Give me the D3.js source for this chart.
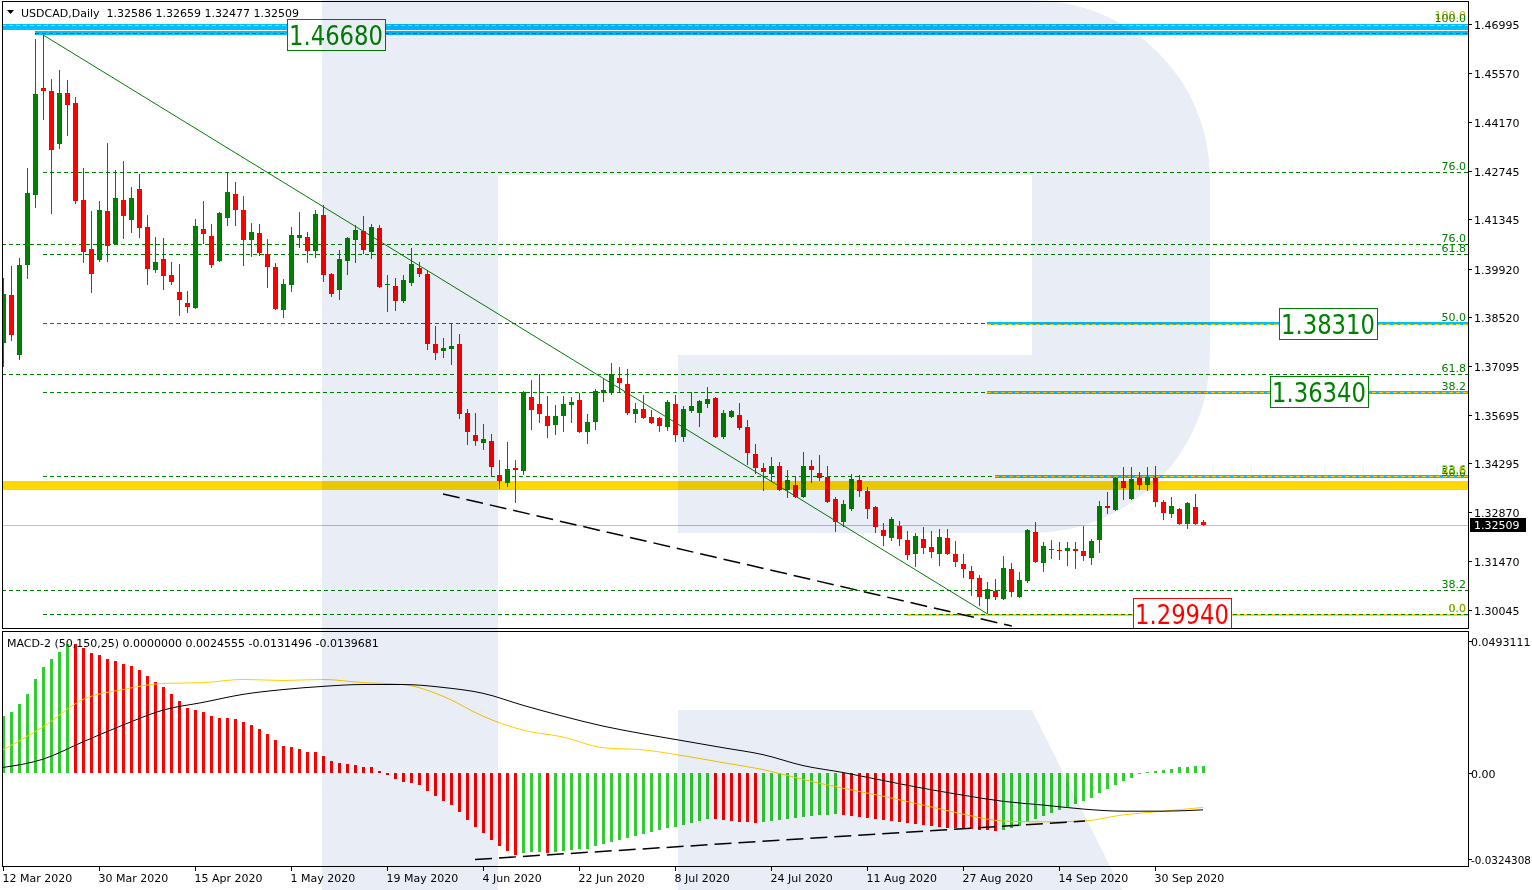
<!DOCTYPE html>
<html><head><meta charset="utf-8">
<script src="https://cdn.jsdelivr.net/npm/d3@7"></script>
<style>body{margin:0;background:#fff}svg{display:block}text{font-family:"DejaVu Sans",sans-serif}</style>
</head><body><svg id="c" width="1532" height="890"></svg>
<script>
// ---------- data ----------
const dateTickIdx=[0,12,24,36,48,60,72,84,96,108,120,132,144];
const dateTickLabels=["12 Mar 2020","30 Mar 2020","15 Apr 2020","1 May 2020","19 May 2020","4 Jun 2020","22 Jun 2020","8 Jul 2020","24 Jul 2020","11 Aug 2020","27 Aug 2020","14 Sep 2020","30 Sep 2020"];
const priceTicks=[1.46995,1.45570,1.44170,1.42745,1.41345,1.39920,1.38520,1.37095,1.35695,1.34295,1.32870,1.31470,1.30045];
const macdTicks=[0.0493111,0,-0.0324308];
const macdTickLabels=["0.0493111","0.00","-0.0324308"];
const open=[
1.3777,1.3916,1.3742,1.4002,1.4205,1.4514,1.4506,1.4352,1.4500,1.4471,
1.4190,1.4049,1.4017,1.4159,1.4063,1.4190,1.4133,1.4222,1.4112,1.3988,
1.4020,1.3973,1.3924,1.3892,1.3878,1.4107,1.4086,1.4014,1.4138,1.4208,
1.4162,1.4075,1.4095,1.4034,1.3997,1.3872,1.3945,1.4081,1.4083,1.4043,
1.4147,1.3976,1.3930,1.4014,1.4075,1.4101,1.4040,1.4109,1.3945,1.3942,
1.3898,1.3950,1.3994,1.3976,1.3774,1.3754,1.3759,1.3774,1.3574,1.3511,
1.3487,1.3493,1.3395,1.3372,1.3415,1.3406,1.3621,1.3600,1.3566,1.3540,
1.3566,1.3597,1.3612,1.3519,1.3548,1.3632,1.3632,1.3675,1.3658,1.3571,
1.3586,1.3563,1.3560,1.3534,1.3600,1.3505,1.3580,1.3574,1.3600,1.3618,
1.3505,1.3563,1.3568,1.3534,1.3456,1.3415,1.3398,1.3421,1.3351,1.3366,
1.3331,1.3421,1.3401,1.3389,1.3325,1.3259,1.3297,1.3380,1.3349,1.3302,
1.3236,1.3213,1.3247,1.3207,1.3166,1.3210,1.3187,1.3166,1.3213,1.3166,
1.3137,1.3117,1.3097,1.3036,1.3059,1.3036,1.3123,1.3042,1.3088,1.3230,
1.3140,1.3181,1.3178,1.3175,1.3181,1.3175,1.3155,1.3207,1.3305,1.3294,
1.3378,1.3325,1.3386,1.3366,1.3386,1.3317,1.3282,1.3297,1.3253,1.3302,
1.32586];
const high=[
1.3965,1.3999,1.4023,1.4283,1.4656,1.4668,1.4540,1.4566,1.4538,1.4488,
1.4283,1.4159,1.4188,1.4355,1.4277,1.4303,1.4228,1.4266,1.4147,1.4083,
1.4081,1.4011,1.4005,1.3927,1.4135,1.4188,1.4121,1.4156,1.4268,1.4242,
1.4202,1.4124,1.4121,1.4078,1.4008,1.3962,1.4112,1.4156,1.4098,1.4162,
1.4176,1.3978,1.4046,1.4083,1.4118,1.4144,1.4121,1.4118,1.3973,1.3965,
1.3973,1.4052,1.4011,1.3988,1.3826,1.3791,1.3835,1.3803,1.3586,1.3574,
1.3542,1.3513,1.3438,1.3490,1.3438,1.3637,1.3670,1.3687,1.3623,1.3597,
1.3623,1.3621,1.3632,1.3571,1.3644,1.3675,1.3719,1.3707,1.3702,1.3603,
1.3626,1.3583,1.3563,1.3612,1.3626,1.3594,1.3635,1.3612,1.3649,1.3621,
1.3583,1.3583,1.3603,1.3554,1.3485,1.3430,1.3447,1.3432,1.3409,1.3389,
1.3461,1.3438,1.3453,1.3421,1.3331,1.3323,1.3398,1.3395,1.3360,1.3304,
1.3256,1.3273,1.3262,1.3233,1.3227,1.3245,1.3233,1.3239,1.3239,1.3204,
1.3166,1.3132,1.3106,1.3085,1.3094,1.3161,1.3140,1.3114,1.3239,1.3259,
1.3201,1.3207,1.3201,1.3201,1.3201,1.3247,1.3210,1.3320,1.3346,1.3388,
1.3418,1.3418,1.3404,1.3418,1.3421,1.3323,1.3331,1.3299,1.3317,1.3340,
1.32659];
const low=[
1.3707,1.3783,1.3728,1.3962,1.4167,1.4422,1.4150,1.4338,1.4376,1.4179,
1.4008,1.3921,1.4011,1.4011,1.4061,1.4078,1.4095,1.4081,1.3945,1.3979,
1.3930,1.3945,1.3855,1.3864,1.3875,1.4063,1.3994,1.4012,1.4115,1.4115,
1.3999,1.4026,1.4028,1.3936,1.3873,1.3849,1.3924,1.4052,1.4008,1.4023,
1.3953,1.3910,1.3901,1.3973,1.4008,1.4034,1.4020,1.3937,1.3866,1.3869,
1.3892,1.3942,1.3968,1.3756,1.3728,1.3733,1.3713,1.3557,1.3482,1.3479,
1.3467,1.3389,1.3354,1.3360,1.3314,1.3395,1.3525,1.3545,1.3502,1.3511,
1.3519,1.3545,1.3516,1.3485,1.3525,1.3606,1.3626,1.3632,1.3568,1.3545,
1.3558,1.3542,1.3519,1.3522,1.3490,1.3490,1.3574,1.3534,1.3589,1.3502,
1.3499,1.3560,1.3525,1.3424,1.3398,1.3349,1.3378,1.3349,1.3328,1.3329,
1.3329,1.3372,1.3378,1.3315,1.3230,1.3245,1.3291,1.3331,1.3268,1.3227,
1.3190,1.3204,1.3190,1.3149,1.3129,1.3166,1.3155,1.3132,1.3164,1.3129,
1.3097,1.3045,1.3016,1.2994,1.3033,1.3033,1.3042,1.3040,1.3082,1.3141,
1.3114,1.3152,1.3149,1.3132,1.3123,1.3146,1.3135,1.3169,1.3282,1.3291,
1.3323,1.3323,1.3351,1.3349,1.3302,1.3265,1.3271,1.3251,1.3239,1.3251,
1.32477];
const close=[
1.3919,1.3800,1.4002,1.4211,1.4497,1.4506,1.4335,1.4500,1.4465,1.4188,
1.4040,1.3976,1.4162,1.4057,1.4196,1.4144,1.4196,1.4109,1.3991,1.4011,
1.3971,1.3953,1.3901,1.3881,1.4115,1.4092,1.4002,1.4153,1.4213,1.4162,
1.4075,1.4098,1.4037,1.3997,1.3875,1.3947,1.4089,1.4089,1.4043,1.4150,
1.3973,1.3919,1.4020,1.4081,1.4104,1.4046,1.4112,1.3939,1.3947,1.3898,
1.3959,1.4005,1.3976,1.3774,1.3748,1.3762,1.3768,1.3571,1.3519,1.3493,
1.3499,1.3418,1.3378,1.3412,1.3409,1.3635,1.3583,1.3571,1.3537,1.3566,
1.3600,1.3606,1.3519,1.3548,1.3638,1.3641,1.3687,1.3661,1.3574,1.3586,
1.3560,1.3545,1.3537,1.3606,1.3511,1.3586,1.3594,1.3609,1.3615,1.3505,
1.3574,1.3580,1.3531,1.3459,1.3415,1.3404,1.3421,1.3351,1.3380,1.3331,
1.3421,1.3409,1.3386,1.3317,1.3259,1.3311,1.3383,1.3349,1.3297,1.3245,
1.3219,1.3268,1.3210,1.3164,1.3219,1.3184,1.3172,1.3216,1.3166,1.3143,
1.3123,1.3094,1.3042,1.3065,1.3042,1.3126,1.3056,1.3091,1.3236,1.3143,
1.3190,1.3178,1.3175,1.3184,1.3175,1.3161,1.3204,1.3305,1.3299,1.3386,
1.3357,1.3383,1.3366,1.3389,1.3317,1.3285,1.3305,1.3253,1.3314,1.3253,
1.32509];
const macdHist=[
0.0211,0.0226,0.0256,0.0293,0.0349,0.0397,0.0426,0.0452,0.0482,0.0480,
0.0467,0.0449,0.0441,0.0426,0.0419,0.0408,0.0400,0.0386,0.0363,0.0341,
0.0319,0.0293,0.0267,0.0241,0.0234,0.0226,0.0211,0.0204,0.0203,0.0200,
0.0189,0.0178,0.0163,0.0145,0.0122,0.0100,0.0096,0.0089,0.0078,0.0077,
0.0063,0.0044,0.0037,0.0033,0.0030,0.0022,0.0021,0.0007,-0.0011,-0.0026,
-0.0037,-0.0041,-0.0048,-0.0070,-0.0089,-0.0108,-0.0122,-0.0148,-0.0178,-0.0204,
-0.0226,-0.0252,-0.0274,-0.0293,-0.0308,-0.0300,-0.0299,-0.0298,-0.0300,-0.0297,
-0.0293,-0.0289,-0.0286,-0.0285,-0.0274,-0.0267,-0.0260,-0.0252,-0.0245,-0.0237,
-0.0230,-0.0222,-0.0215,-0.0208,-0.0204,-0.0197,-0.0189,-0.0182,-0.0174,-0.0176,
-0.0178,-0.0182,-0.0184,-0.0185,-0.0189,-0.0185,-0.0182,-0.0178,-0.0174,-0.0171,
-0.0167,-0.0163,-0.0159,-0.0158,-0.0156,-0.0159,-0.0163,-0.0167,-0.0171,-0.0174,
-0.0178,-0.0182,-0.0185,-0.0189,-0.0193,-0.0197,-0.0200,-0.0204,-0.0208,-0.0209,
-0.0211,-0.0213,-0.0215,-0.0217,-0.0219,-0.0215,-0.0208,-0.0200,-0.0185,-0.0174,
-0.0163,-0.0152,-0.0141,-0.0130,-0.0119,-0.0108,-0.0096,-0.0078,-0.0063,-0.0048,
-0.0033,-0.0019,-0.0007,0.0001,0.0007,0.0011,0.0015,0.0019,0.0022,0.0023,
0.0024555];
const macdLineIdx=[0,5,10,15,20,25,30,35,40,45,50,55,60,65,70,75,80,85,90,95,100,105,110,115,120,125,130,135,140,145,150];
const macdBlack=[0.0019,0.0050,0.0115,0.0178,0.0234,0.0263,0.0293,0.0311,0.0323,0.0330,0.0330,0.0319,0.0297,0.0252,0.0211,0.0174,0.0145,0.0119,0.0093,0.0067,0.0026,0.0000,-0.0030,-0.0059,-0.0085,-0.0108,-0.0122,-0.0137,-0.0145,-0.0145,-0.0140];
const macdYellow=[0.0085,0.0171,0.0274,0.0311,0.0334,0.0337,0.0349,0.0345,0.0349,0.0337,0.0330,0.0286,0.0211,0.0159,0.0133,0.0093,0.0085,0.0063,0.0037,0.0011,-0.0026,-0.0059,-0.0089,-0.0122,-0.0156,-0.0182,-0.0185,-0.0182,-0.0159,-0.0145,-0.0131];
// fibonacci objects
const fibALevels=[100,76,61.8,50,38.2,23.6,0];
const fibAAnchors=[1.4675,1.2994];   // high, low
const fibAStartBar=5;
const fibBLevels=[76,61.8,50,38.2];
const fibBAnchors=[1.4697,1.2050];
const fibBStartBar=-1;
// horizontal lines: price, start bar
const blueLinePrices=[1.4691,1.4673,1.3833,1.3634,1.3391];
const blueLineStart=[-1,4,123,123,124];
const goldBandPrice=1.3367;
const lowLinePrice=1.2994, lowLineStart=113;
const lastPrice=1.32509;
// trend lines [bar, price]
const greenTrend=[[5,1.4668],[123,1.2994]];
const blackDashTrend=[[55,1.3340],[126.1,1.2958]];
const macdDashTrend=[[59,-0.0326],[135.25,-0.0182]];
// boxed labels
const boxTexts=["1.46680","1.38310","1.36340","1.29940"];
const boxPrices=[1.4668,1.3831,1.3634,1.2994];
const boxBars=[35.5,159.5,158.4,141.25];

// ---------- drawing ----------
const svg=d3.select("#c");
const L=2,R=1468,T=1,B=628,MT=632,MB=866;
const x=d3.scaleLinear().domain([0,150]).range([3,1203]);
const y=d3.scaleLinear().domain([1.30045,1.46995]).range([610,24]);
const ym=d3.scaleLinear().domain([-0.0324308,0.0493111]).range([859,641]);
const GREEN="#008000",RED="#ff0000",BLUE="#00bfff",GOLD="#ffd700",YEL="#ffd000";

const defs=svg.append("defs");
defs.append("clipPath").attr("id","cm").append("rect").attr("x",L).attr("y",T).attr("width",R-L).attr("height",B-T);
defs.append("clipPath").attr("id","cd").append("rect").attr("x",L).attr("y",MT).attr("width",R-L).attr("height",MB-MT);

const gm=svg.append("g").attr("clip-path","url(#cm)");
const hline=(g,p,x0,color,w,dash)=>g.append("line").attr("x1",x0).attr("x2",R).attr("y1",Math.round(y(p))+0.5).attr("y2",Math.round(y(p))+0.5)
  .attr("stroke",color).attr("stroke-width",w).attr("stroke-dasharray",dash||null).attr("shape-rendering","crispEdges");

// fib A (green dashed)
const fibAP=l=>fibAAnchors[1]+l/100*(fibAAnchors[0]-fibAAnchors[1]);
fibALevels.forEach(l=>hline(gm,fibAP(l),x(fibAStartBar),GREEN,1,"4,3"));
const fibBP=l=>fibBAnchors[1]+l/100*(fibBAnchors[0]-fibBAnchors[1]);
fibBLevels.forEach(l=>hline(gm,fibBP(l),L,GREEN,1,"4,3"));
// gold band
gm.append("rect").attr("x",L).attr("width",R-L).attr("y",Math.round(y(goldBandPrice))-4).attr("height",9).attr("fill",GOLD);
// low line
hline(gm,lowLinePrice,x(lowLineStart),GOLD,2);
hline(gm,fibAP(0),x(fibAStartBar),GREEN,1,"4,3");
// blue lines
const bw=[6,4,3,3,3];
blueLinePrices.forEach((p,i)=>{
  const x0=blueLineStart[i]<0?L:x(blueLineStart[i]);
  gm.append("rect").attr("x",x0).attr("width",R-x0).attr("y",Math.round(y(p)-bw[i]/2)).attr("height",bw[i]).attr("fill",BLUE);
});
// yellow dashed on blue
hline(gm,fibBAnchors[0],L,YEL,1,"4,3");
[2,3,4].forEach(i=>hline(gm,blueLinePrices[i],x(blueLineStart[i]),YEL,1,"4,3"));
hline(gm,blueLinePrices[1],x(blueLineStart[1]),GREEN,1,"4,3");
// current price line
hline(gm,lastPrice,L,"#c0c0c0",1);
// trendlines
gm.append("line").attr("x1",x(greenTrend[0][0])).attr("y1",y(greenTrend[0][1])).attr("x2",x(greenTrend[1][0])).attr("y2",y(greenTrend[1][1])).attr("stroke",GREEN).attr("stroke-width",1);
gm.append("line").attr("x1",x(blackDashTrend[0][0])).attr("y1",y(blackDashTrend[0][1])).attr("x2",x(blackDashTrend[1][0])).attr("y2",y(blackDashTrend[1][1])).attr("stroke","#000").attr("stroke-width",1.5).attr("stroke-dasharray","17,7");

// candles
const idx=d3.range(open.length);
const cg=gm.append("g").attr("shape-rendering","crispEdges");
idx.forEach(k=>{
  const up=close[k]>=open[k], col=up?GREEN:RED, cx=Math.round(x(k));
  const yh=Math.round(y(high[k])), yl=Math.round(y(low[k]));
  cg.append("rect").attr("x",cx).attr("width",1).attr("y",yh).attr("height",Math.max(1,yl-yh)).attr("fill",col);
  const yt=Math.round(y(Math.max(open[k],close[k]))), yb=Math.round(y(Math.min(open[k],close[k])));
  cg.append("rect").attr("x",cx-2).attr("width",5).attr("y",yt).attr("height",Math.max(1,yb-yt)).attr("fill",col);
});

// fib labels (placed just above their lines, as in the terminal)
const flab=(t,p,col,off)=>gm.append("text").attr("x",R-2).attr("y",Math.round(y(p))-(off||2)).attr("text-anchor","end").attr("font-size",11).attr("fill",col).text(t);
flab("100.0",fibBAnchors[0],"#d4b000",6);
fibALevels.forEach(l=>flab(l.toFixed(1),fibAP(l),GREEN,l===100?10:2));
fibBLevels.forEach(l=>flab(l.toFixed(1),fibBP(l),GREEN,l===50?6:2));
flab("23.6",blueLinePrices[4],"#b8c400",3);
flab("0.0",lowLinePrice,"#a8b800");

// boxed labels
boxTexts.forEach((t,i)=>{
  const col=i===3?RED:GREEN, bx=Math.round(x(boxBars[i])), by=Math.round(y(boxPrices[i]));
  gm.append("rect").attr("x",bx+0.5).attr("y",by-15.5).attr("width",98).attr("height",31).attr("fill","#fff").attr("stroke",col);
  gm.append("text").attr("x",bx+2).attr("y",by+10).attr("font-size",26).attr("fill",col)
    .attr("textLength",94).attr("lengthAdjust","spacingAndGlyphs").text(t);
});

// ---------- MACD ----------
const gd=svg.append("g").attr("clip-path","url(#cd)");
gd.append("g").attr("shape-rendering","crispEdges").selectAll("rect").data(idx).join("rect")
  .attr("x",k=>Math.round(x(k))-1).attr("width",3)
  .attr("y",k=>Math.min(ym(0),ym(macdHist[k]))).attr("height",k=>Math.max(1,Math.abs(ym(macdHist[k])-ym(0))))
  .attr("fill",k=>(k===0||macdHist[k]>=macdHist[k-1])?"#32cd32":RED);
const ln=d3.line().x(d=>x(d[0])).y(d=>ym(d[1])).curve(d3.curveMonotoneX);
gd.append("path").attr("d",ln(macdLineIdx.map((k,i)=>[k,macdYellow[i]]))).attr("fill","none").attr("stroke",YEL).attr("stroke-width",1);
gd.append("path").attr("d",ln(macdLineIdx.map((k,i)=>[k,macdBlack[i]]))).attr("fill","none").attr("stroke","#000").attr("stroke-width",1);
gd.append("line").attr("x1",x(macdDashTrend[0][0])).attr("y1",ym(macdDashTrend[0][1])).attr("x2",x(macdDashTrend[1][0])).attr("y2",ym(macdDashTrend[1][1])).attr("stroke","#000").attr("stroke-width",1.5).attr("stroke-dasharray","17,7");

// ---------- frames & axes ----------
const fr=svg.append("g").attr("fill","none").attr("stroke","#000").attr("shape-rendering","crispEdges");
fr.append("rect").attr("x",L+0.5).attr("y",T+0.5).attr("width",R-L).attr("height",B-T);
fr.append("rect").attr("x",L+0.5).attr("y",MT-0.5).attr("width",R-L).attr("height",MB-MT+1);

const ax=svg.append("g").attr("font-size",11).attr("fill","#000");
priceTicks.forEach(p=>{
  const yy=Math.round(y(p))+0.5;
  ax.append("line").attr("x1",R).attr("x2",R+4).attr("y1",yy).attr("y2",yy).attr("stroke","#000").attr("shape-rendering","crispEdges");
  ax.append("text").attr("x",R+6).attr("y",yy+4).text(p.toFixed(5));
});
// last price tag
const ly=Math.round(y(lastPrice));
ax.append("rect").attr("x",R+2).attr("y",ly-7).attr("width",56).attr("height",14).attr("fill","#000");
ax.append("text").attr("x",R+6).attr("y",ly+4).attr("fill","#fff").text(lastPrice.toFixed(5));
macdTicks.forEach((v,i)=>{
  const yy=Math.round(ym(v))+0.5;
  ax.append("line").attr("x1",R).attr("x2",R+4).attr("y1",yy).attr("y2",yy).attr("stroke","#000").attr("shape-rendering","crispEdges");
  ax.append("text").attr("x",R+3).attr("y",yy+4).attr("font-size",v<0?10.4:11).text(macdTickLabels[i]);
});
dateTickIdx.forEach((k,i)=>{
  const xx=Math.round(x(k))+0.5;
  ax.append("line").attr("x1",xx).attr("x2",xx).attr("y1",MB).attr("y2",MB+5).attr("stroke","#000").attr("shape-rendering","crispEdges");
  ax.append("text").attr("x",xx-1).attr("y",882).text(dateTickLabels[i]);
});
// headers
svg.append("path").attr("d","M7,10 L14,10 L10.5,14 Z").attr("fill","#000");
svg.append("text").attr("x",21).attr("y",17).attr("font-size",11).attr("fill","#000").attr("xml:space","preserve")
  .text("USDCAD,Daily  1.32586 1.32659 1.32477 1.32509");
svg.append("text").attr("x",7).attr("y",647).attr("font-size",11).attr("fill","#000")
  .text("MACD-2 (50,150,25) 0.0000000 0.0024555 -0.0131496 -0.0139681");

// ---------- watermark (multiply) ----------
const wm=svg.append("g").style("mix-blend-mode","multiply").attr("fill","#e9edf5");
wm.append("path").attr("d","M322,0 H498 V890 H322 Z");
wm.append("path").attr("d","M498,0 H1032 A178,178 0 0 1 1210,178 V355 A178,178 0 0 1 1032,533 H678 V355 H1032 V175 H498 Z");
wm.append("path").attr("d","M678,710 H1032 L1122,890 H678 Z");
</script></body></html>
